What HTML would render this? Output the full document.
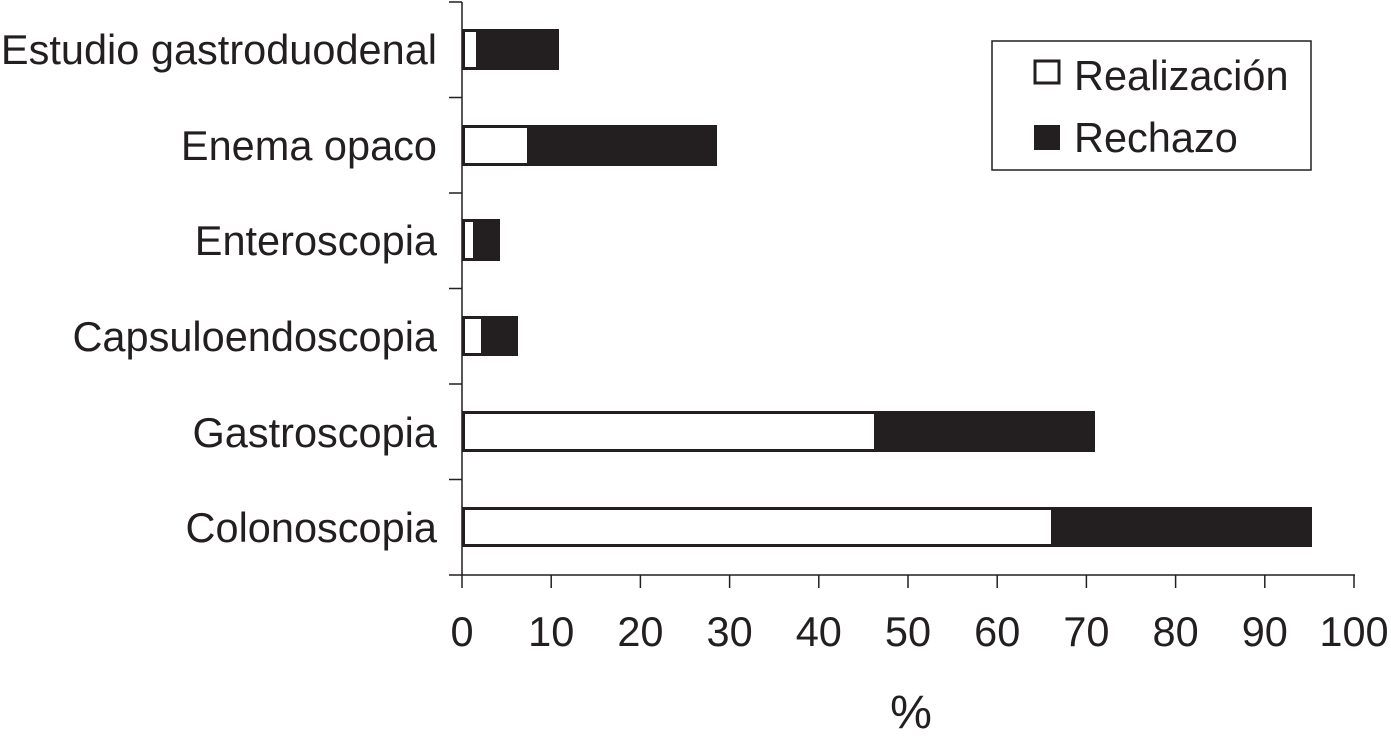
<!DOCTYPE html>
<html><head><meta charset="utf-8"><style>
html,body{margin:0;padding:0;background:#fff;}
svg{display:block;}
text{font-family:"Liberation Sans",Arial,sans-serif;fill:#231f20;font-size:41.5px;}
</style></head><body>
<svg width="1391" height="738" viewBox="0 0 1391 738" xmlns="http://www.w3.org/2000/svg">
<g stroke="#231f20" stroke-width="1.5" fill="none">
<line x1="462" y1="2" x2="462" y2="575"/>
<line x1="449" y1="575" x2="1355" y2="575"/>
<line x1="449" y1="2" x2="462" y2="2"/>
<line x1="449" y1="97.5" x2="462" y2="97.5"/>
<line x1="449" y1="193" x2="462" y2="193"/>
<line x1="449" y1="288.5" x2="462" y2="288.5"/>
<line x1="449" y1="384" x2="462" y2="384"/>
<line x1="449" y1="479.5" x2="462" y2="479.5"/>
<line x1="462" y1="575" x2="462" y2="588"/>
<line x1="551.2" y1="575" x2="551.2" y2="588"/>
<line x1="640.4" y1="575" x2="640.4" y2="588"/>
<line x1="729.6" y1="575" x2="729.6" y2="588"/>
<line x1="818.8" y1="575" x2="818.8" y2="588"/>
<line x1="908" y1="575" x2="908" y2="588"/>
<line x1="997.2" y1="575" x2="997.2" y2="588"/>
<line x1="1086.4" y1="575" x2="1086.4" y2="588"/>
<line x1="1175.6" y1="575" x2="1175.6" y2="588"/>
<line x1="1264.8" y1="575" x2="1264.8" y2="588"/>
<line x1="1354" y1="575" x2="1354" y2="588"/>
</g>
<g fill="#231f20" stroke="#231f20" stroke-width="3">
<rect x="463.5" y="30.5" width="94" height="38"/>
<rect x="463.5" y="126.5" width="252" height="38"/>
<rect x="463.5" y="220.5" width="35" height="39"/>
<rect x="463.5" y="317.5" width="53" height="37"/>
<rect x="463.5" y="412.5" width="630" height="38"/>
<rect x="463.5" y="508.5" width="847" height="37"/>
</g>
<g fill="#fff" stroke="#231f20" stroke-width="3">
<rect x="463.5" y="30.5" width="14" height="38"/>
<rect x="463.5" y="126.5" width="65" height="38"/>
<rect x="463.5" y="220.5" width="11" height="39"/>
<rect x="463.5" y="317.5" width="19" height="37"/>
<rect x="463.5" y="412.5" width="412" height="38"/>
<rect x="463.5" y="508.5" width="589" height="37"/>
</g>
<g text-anchor="end">
<text x="437" y="64">Estudio gastroduodenal</text>
<text x="437" y="160">Enema opaco</text>
<text x="437" y="255">Enteroscopia</text>
<text x="437" y="351">Capsuloendoscopia</text>
<text x="437" y="447">Gastroscopia</text>
<text x="437" y="542">Colonoscopia</text>
</g>
<g text-anchor="middle" style="font-size:40px">
<text x="462" y="646">0</text>
<text x="551.2" y="646">10</text>
<text x="640.4" y="646">20</text>
<text x="729.6" y="646">30</text>
<text x="818.8" y="646">40</text>
<text x="908" y="646">50</text>
<text x="997.2" y="646">60</text>
<text x="1086.4" y="646">70</text>
<text x="1175.6" y="646">80</text>
<text x="1264.8" y="646">90</text>
<text x="1354" y="646">100</text>
<text x="911" y="728" style="font-size:47px">%</text>
</g>
<rect x="992" y="41" width="319" height="129" fill="#fff" stroke="#231f20" stroke-width="1.5"/>
<rect x="1035" y="61" width="24" height="22" fill="#fff" stroke="#231f20" stroke-width="3"/>
<rect x="1034" y="125" width="26" height="25" fill="#231f20"/>
<text x="1074" y="90">Realización</text>
<text x="1074" y="152">Rechazo</text>
</svg>
</body></html>
